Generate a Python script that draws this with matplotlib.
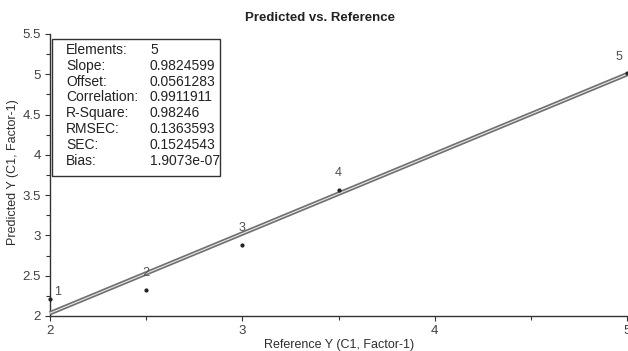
import matplotlib
matplotlib.use("Agg")
import matplotlib.pyplot as plt
import matplotlib.patheffects as pe
from matplotlib.patches import Rectangle
from matplotlib.ticker import MultipleLocator

# ---- data ----
ref_y = [2.0, 2.5, 3.0, 3.5, 5.0]
pred_y = [2.21, 2.32, 2.88, 3.56, 5.01]
point_labels = ["1", "2", "3", "4", "5"]
trend_x = [2.0, 5.0]
trend_y = [2.035, 5.0]

stat_names = ["Elements:", "Slope:", "Offset:", "Correlation:", "R-Square:",
              "RMSEC:", "SEC:", "Bias:"]
stat_values = ["5", "0.9824599", "0.0561283", "0.9911911", "0.98246",
               "0.1363593", "0.1524543", "1.9073e-07"]

x_ticks = [2, 3, 4, 5]
y_ticks = [2, 2.5, 3, 3.5, 4, 4.5, 5, 5.5]

plt.rcParams['font.family'] = ['Liberation Sans', 'DejaVu Sans']
txt = "#2e2e2e"

fig = plt.figure(figsize=(6.28, 3.51), dpi=100)
ax = fig.add_axes([50/628, 35/351, 577/628, 282/351])

ax.set_xlim(2, 5)
ax.set_ylim(2, 5.5)

# trend line (double stroke)
ax.plot(trend_x, trend_y, color="#e6e6e6", lw=0.8, solid_capstyle="butt",
        path_effects=[pe.Stroke(linewidth=3.2, foreground="#707070"), pe.Normal()],
        zorder=3, clip_on=False)

ax.scatter(ref_y, pred_y, s=4, color="#222222", zorder=4, clip_on=False)

for i, (x, y, lab) in enumerate(zip(ref_y, pred_y, point_labels)):
    if i == 0:
        off, ha = (3, 5), "left"
    elif i == len(ref_y) - 1:
        off, ha = (-3, 12), "right"
    else:
        off, ha = (0, 12.5), "center"
    ax.annotate(lab, (x, y), xytext=off, textcoords="offset points",
                ha=ha, va="center", fontsize=9, color="#505050", zorder=5)

# spines
for s in ["top", "right"]:
    ax.spines[s].set_visible(False)
for s in ["left", "bottom"]:
    ax.spines[s].set_color("#333333")
    ax.spines[s].set_linewidth(1.0)

ax.set_xticks(x_ticks)
ax.xaxis.set_minor_locator(MultipleLocator(0.5))
ax.set_yticks(y_ticks)
ax.set_yticklabels([f"{v:g}" for v in y_ticks])
ax.yaxis.set_minor_locator(MultipleLocator(0.25))
ax.tick_params(axis="both", which="major", labelsize=9.5, labelcolor="#404040",
               color="#333333", length=3.5, width=0.8, direction="out")
ax.tick_params(axis="both", which="minor", color="#333333", length=3, width=0.8,
               direction="out")
ax.tick_params(axis="x", pad=3)
ax.tick_params(axis="y", pad=3)

fig.text(320/628, 1 - 18/351, "Predicted vs. Reference", ha="center", va="center",
         fontsize=9.5, fontweight="bold", color="#222222")
fig.text(339/628, 1 - 345/351, "Reference Y (C1, Factor-1)", ha="center",
         va="center", fontsize=9, color=txt)
fig.text(13/628, 1 - 172/351, "Predicted Y (C1, Factor-1)", ha="center",
         va="center", rotation=90, fontsize=9, color=txt)

# stats box
box = Rectangle((52/628, 1 - 176/351), (220 - 52)/628, (176 - 39)/351,
                transform=fig.transFigure, facecolor="white",
                edgecolor="#333333", lw=1.0, zorder=6)
fig.patches.append(box)
for i, (n, v) in enumerate(zip(stat_names, stat_values)):
    yy = 1 - (50 + i * 15.8)/351
    fig.text(66/628, yy, n, ha="left", va="center", fontsize=10,
             color="#222222", zorder=7)
    fig.text(150/628, yy, v, ha="left", va="center", fontsize=10,
             color="#222222", zorder=7)

fig.savefig("out.png", dpi=100)
